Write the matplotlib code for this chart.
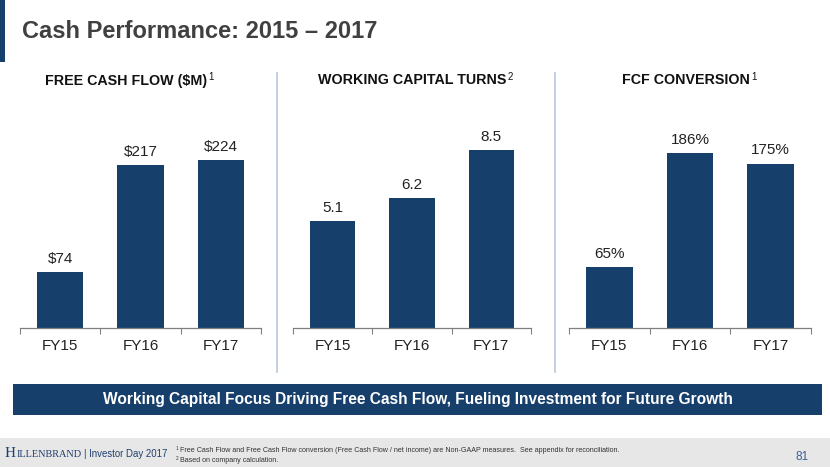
import matplotlib
matplotlib.use("Agg")
import matplotlib.pyplot as plt
from matplotlib.patches import Rectangle
from matplotlib import font_manager

plt.rcParams['font.family'] = ['Liberation Sans', 'DejaVu Sans']

names = {f.name for f in font_manager.fontManager.ttflist}
NARROW = ['Liberation Sans Narrow', 'Liberation Sans'] if 'Liberation Sans Narrow' in names else ['Liberation Sans']

W, H = 830, 467
categories = ["FY15", "FY16", "FY17"]
fcf_values = [74, 217, 224]
fcf_labels = ["\\$74", "\\$217", "\\$224"]
wct_values = [5.1, 6.2, 8.5]
wct_labels = ["5.1", "6.2", "8.5"]
conv_values = [65, 186, 175]
conv_labels = ["65%", "186%", "175%"]

panel_titles = ["FREE CASH FLOW (\\$M)", "WORKING CAPITAL TURNS", "FCF CONVERSION"]
panel_sups = ["1", "2", "1"]

title = "Cash Performance: 2015 \u2013 2017"
banner = "Working Capital Focus Driving Free Cash Flow, Fueling Investment for Future Growth"
foot1 = "Free Cash Flow and Free Cash Flow conversion (Free Cash Flow / net income) are Non-GAAP measures.  See appendix for reconciliation."
foot2 = "Based on company calculation."

NAVY = "#173f6c"

fig = plt.figure(figsize=(W / 100, H / 100), dpi=100)
fig.patch.set_facecolor("white")


def fx(x):
    return x / W


def fy(y):
    return 1 - y / H


def px_axes(left, top, right, bottom):
    return fig.add_axes([fx(left), fy(bottom), (right - left) / W, (bottom - top) / H])


def right_px(t):
    fig.canvas.draw()
    return t.get_window_extent().x1 / fig.dpi * 100


bg = fig.add_axes([0, 0, 1, 1])
bg.set_xlim(0, W)
bg.set_ylim(H, 0)
bg.axis("off")
bg.add_patch(Rectangle((0, 0), 5, 62, color=NAVY, lw=0))
bg.text(22, 31, title, fontsize=17, fontweight="bold", color="#404040", va="center", ha="left")

for xd in (277, 555):
    bg.plot([xd, xd], [73, 372], color="#b9c8d8", lw=1.2)

bg.add_patch(Rectangle((13, 384), 809, 31, color=NAVY, lw=0))
bg.text(417.5, 399.5, banner, fontsize=11.2, fontweight="bold", color="white", ha="center", va="center")

bg.add_patch(Rectangle((0, 438), W, 29, color="#e7e7e7", lw=0))
th = bg.text(5, 457, "H", family="Liberation Serif", fontsize=11, color="#1f3f6e", va="baseline", ha="left")
x1 = right_px(th)
ti = bg.text(x1 + 0.3, 457, "ILLENBRAND", family="Liberation Serif", fontsize=7.4, color="#1f3f6e", va="baseline", ha="left")
x2 = right_px(ti)
bg.text(x2 + 2.5, 457, "| Investor Day 2017", family=NARROW, fontsize=6.9, color="#1f3f6e", va="baseline", ha="left")
bg.text(176, 450.5, "1", family=NARROW, fontsize=3.4, color="#333333", va="baseline", ha="left")
bg.text(180, 452.5, foot1, family=NARROW, fontsize=5.1, color="#333333", va="baseline", ha="left")
bg.text(176, 459.5, "2", family=NARROW, fontsize=3.4, color="#333333", va="baseline", ha="left")
bg.text(180, 461.5, foot2, family=NARROW, fontsize=5.1, color="#333333", va="baseline", ha="left")
bg.text(802, 457, "81", fontsize=8.5, color="#3c5f93", va="center", ha="center")

panels = [
    (20, 261, fcf_values, fcf_labels, 333.0),
    (293, 531, wct_values, wct_labels, 11.95),
    (569, 811, conv_values, conv_labels, 266.0),
]
title_centers = [126, 412, 686]

for i, (l, r, vals, labs, ytop) in enumerate(panels):
    ax = px_axes(l, 78, r, 328)
    x = list(range(len(categories)))
    bars = ax.bar(x, vals, width=0.575, color=NAVY, edgecolor="none", zorder=2)
    ax.set_xlim(-0.5, 2.5)
    ax.set_ylim(0, ytop)
    ax.set_xticks([-0.5, 0.5, 1.5, 2.5])
    ax.set_xticklabels([])
    ax.set_xticks(x, minor=True)
    ax.set_xticklabels(categories, minor=True, fontsize=11, color="#222222")
    ax.tick_params(axis="x", which="major", length=4, width=0.8, color="#808080", direction="out")
    ax.tick_params(axis="x", which="minor", length=0, pad=8)
    ax.set_yticks([])
    for s in ("top", "right", "left"):
        ax.spines[s].set_visible(False)
    ax.spines["bottom"].set_color("#808080")
    ax.spines["bottom"].set_linewidth(0.9)
    ax.set_facecolor("none")
    for b, lab in zip(bars, labs):
        ax.annotate(lab, (b.get_x() + b.get_width() / 2, b.get_height()),
                    xytext=(0, 4.5), textcoords="offset points", ha="center", va="bottom",
                    fontsize=11, color="#222222")
    t = bg.text(title_centers[i], 80.5, panel_titles[i],
                fontsize=10.3, fontweight="bold", color="#111111", ha="center", va="center")
    xr = right_px(t)
    bg.text(xr + 1, 76.5, panel_sups[i], fontsize=7, color="#111111", ha="left", va="center")

fig.savefig("out.png", dpi=100, facecolor="white")
